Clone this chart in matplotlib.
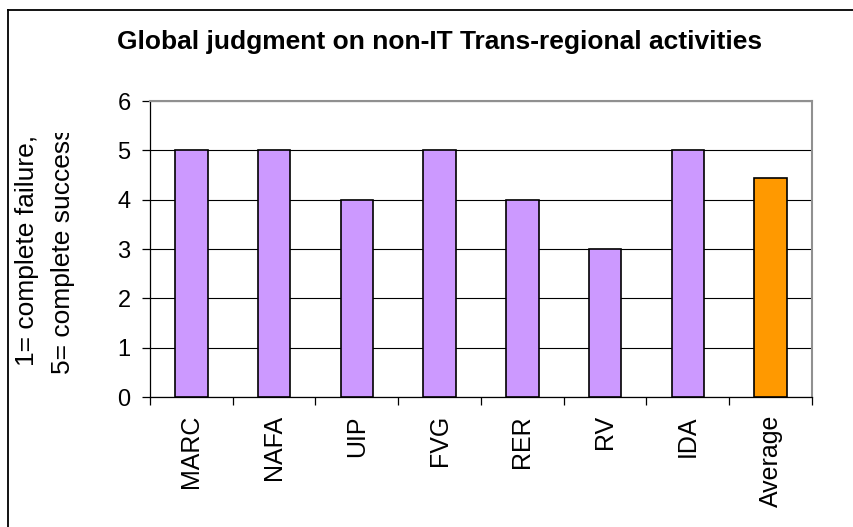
import matplotlib
matplotlib.use("Agg")
import matplotlib.pyplot as plt
from matplotlib.lines import Line2D
from matplotlib.transforms import Bbox
import numpy as np

plt.rcParams['font.family'] = ['Liberation Sans', 'DejaVu Sans']

# data
categories = ['MARC', 'NAFA', 'UIP', 'FVG', 'RER', 'RV', 'IDA', 'Average']
scores = [5, 5, 4, 5, 4, 3, 5, 4.43]
bar_colors = ['#CC99FF'] * 7 + ['#FF9900']
y_ticks = [0, 1, 2, 3, 4, 5, 6]
title = 'Global judgment on non-IT Trans-regional activities'
ylabel_lines = ['1= complete failure,', '5= complete success']

W, H = 854, 527
fig = plt.figure(figsize=(W / 100, H / 100), dpi=100)

# chart border (only top and left visible in the reference)
bx, by = 8 / W, 1 - 9.5 / H
fig.add_artist(Line2D([bx, bx], [0, by], color='black', lw=1.3, transform=fig.transFigure))
fig.add_artist(Line2D([bx, 1.0], [by, by], color='black', lw=1.3, transform=fig.transFigure))

ax = fig.add_axes([150 / W, 1 - 397 / H, 662 / W, 296 / H])
x = np.arange(len(categories))
ax.bar(x, scores, width=0.39, color=bar_colors, edgecolor='black', linewidth=1.2, zorder=3)

ax.set_xlim(-0.5, len(categories) - 0.5)
ax.set_ylim(0, 6)
ax.set_yticks(y_ticks)
ax.set_yticklabels([str(t) for t in y_ticks], fontsize=17)
ax.tick_params(axis='y', direction='out', length=6, width=0.9, pad=8)

ax.set_xticks(x)
ax.set_xticklabels(categories, rotation=90, fontsize=18)
ax.tick_params(axis='x', which='major', length=0, pad=13)
ax.set_xticks(np.arange(-0.5, len(categories)), minor=True)
ax.tick_params(axis='x', which='minor', direction='out', length=5.5, width=0.9)

ax.set_axisbelow(True)
ax.yaxis.grid(True, color='black', linewidth=0.8)
for s in ['top', 'right']:
    ax.spines[s].set_color('#909090')
    ax.spines[s].set_linewidth(1.5)
for s in ['left', 'bottom']:
    ax.spines[s].set_color('black')
    ax.spines[s].set_linewidth(0.9)

fig.text(440 / W, 1 - 42 / H, title, ha='center', va='center',
         fontsize=19, fontweight='bold')

# y label, clipped at the top like in the reference
clip = Bbox([[0, 0], [W, H - 133]])
for xpos, line in zip([27, 63], ylabel_lines):
    t = fig.text(xpos / W, 1 - 250 / H, line, rotation=90, ha='center', va='center',
                 fontsize=19)
    t.set_clip_on(True)
    t.set_clip_box(clip)

fig.savefig('out.png', dpi=100)
